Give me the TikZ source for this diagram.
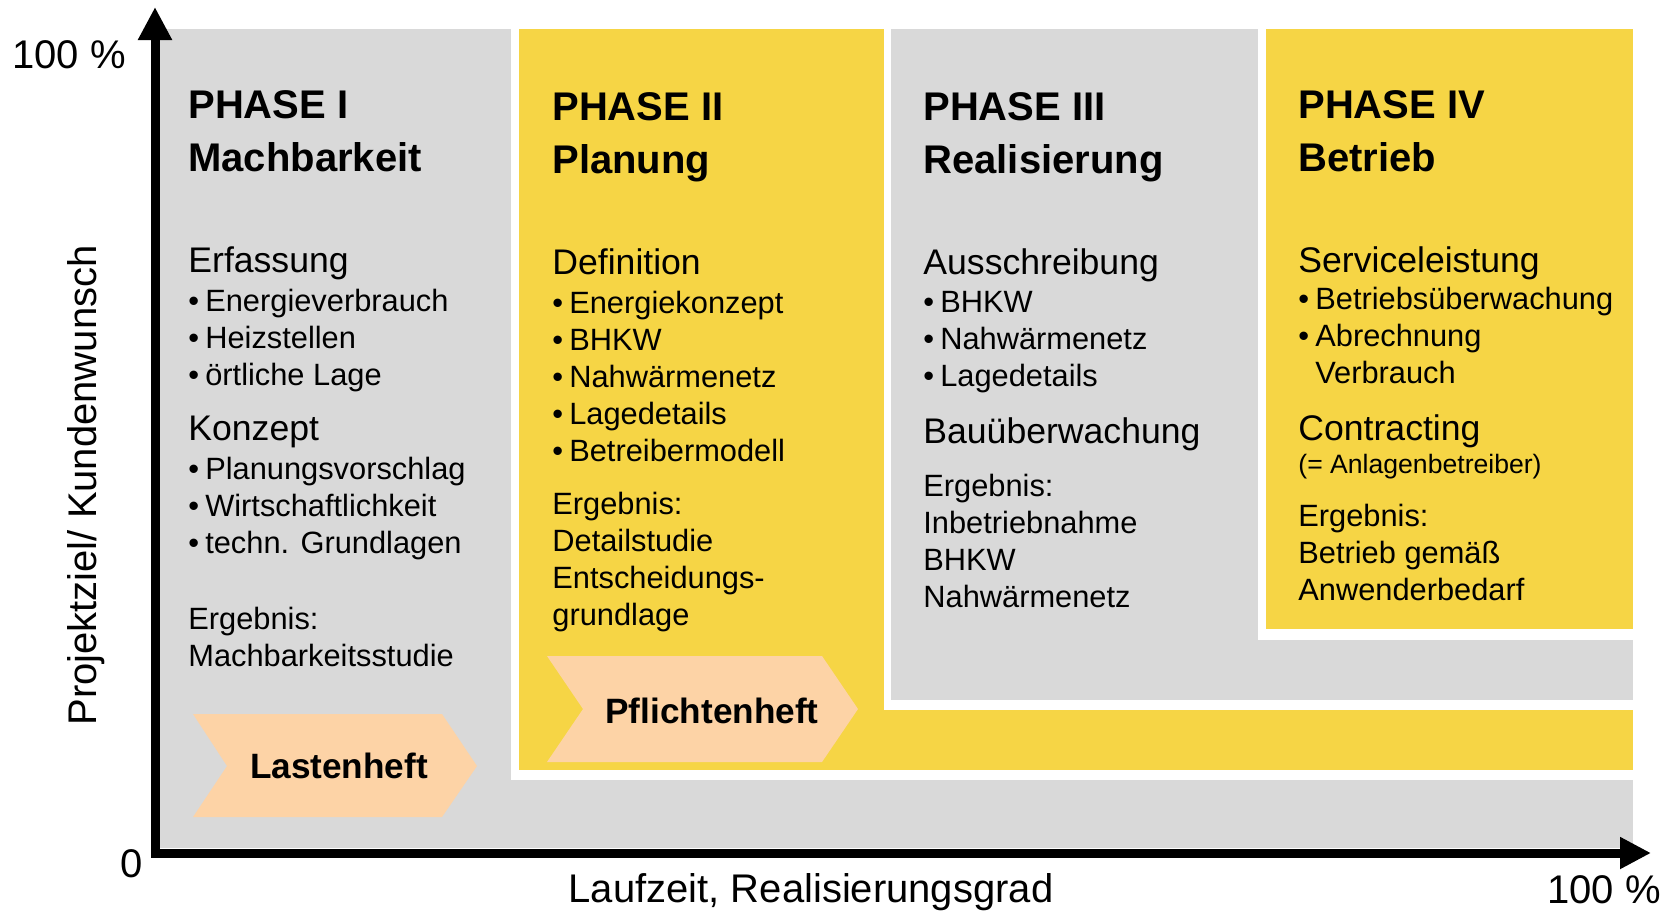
\documentclass[tikz,border=0pt]{standalone}
\usepackage{fontspec}
\setmainfont{Liberation Sans}
\usetikzlibrary{arrows.meta}

\definecolor{phgray}{HTML}{D9D9D9}
\definecolor{phyellow}{HTML}{F6D545}
\definecolor{phpeach}{HTML}{FDD3A6}

\newcommand{\bul}{•\hspace{0.2em}}

\tikzset{
  phtitle/.style={anchor=base west, align=left, inner sep=0pt, font=\fontsize{20}{26.5}\selectfont\bfseries},
  phhead/.style={anchor=base west, inner sep=0pt, font=\fontsize{17.8}{20}\selectfont},
  phitem/.style={anchor=base west, align=left, inner sep=0pt, font=\fontsize{15.4}{18.5}\selectfont},
  phsmall/.style={anchor=base west, inner sep=0pt, font=\fontsize{13.3}{15}\selectfont},
  phaxis/.style={inner sep=0pt, font=\fontsize{20}{24}\selectfont},
  chevtext/.style={anchor=base, inner sep=0pt, font=\fontsize{17.6}{20}\selectfont\bfseries}
}

\begin{document}
\begin{tikzpicture}[x=0.5pt,y=-0.5pt]
\useasboundingbox (0,0) rectangle (1668,911);

\fill[phgray] (155,29) rectangle (1633,848);
\fill[white] (511,29) rectangle (1633,780);
\fill[phyellow] (519,29) rectangle (1633,770);
\fill[white] (884,29) rectangle (1633,710);
\fill[phgray] (891,29) rectangle (1633,700);
\fill[white] (1258,29) rectangle (1633,640);
\fill[phyellow] (1266,29) rectangle (1633,629);

\fill[phpeach] (193,714) -- (442,714) -- (477,766) -- (442,817) -- (193,817) -- (227,766) -- cycle;
\fill[phpeach] (547,656) -- (822,656) -- (858,709) -- (822,762) -- (547,762) -- (583,709) -- cycle;
\node[chevtext] (lasten) at (339,778) {Lastenheft};
\node[chevtext] (pflicht) at (712,723) {Pflichtenheft};

\coordinate (origin) at (155,853);
\coordinate (ytop) at (155,7);
\coordinate (xend) at (1651,853);
\draw[line width=4.5pt, {Triangle[width=16pt,length=16.5pt]}-{Triangle[width=15pt,length=15.5pt]}]
  (ytop) -- (origin) -- (xend);

\node[phaxis, anchor=base west] (ymax) at (12,68) {100 \%};
\node[phaxis, anchor=base west] (zero) at (120,877) {0};
\node[phaxis, anchor=base] (xlabel) at (811,902) {Laufzeit, Realisierungsgrad};
\node[phaxis, anchor=base west] (xmax) at (1547,903) {100 \%};
\node[phaxis, anchor=base west, rotate=90] (ylabel) at (96,726) {Projektziel/ Kundenwunsch};

\node[phtitle] (t1) at (188,171) {PHASE I\\Machbarkeit};
\node[phhead] (erf) at (188,272) {Erfassung};
\node[phitem] (erfitems) at (188,385) {\bul Energieverbrauch\\\bul Heizstellen\\\bul örtliche Lage};
\node[phhead] (konz) at (188,440) {Konzept};
\node[phitem] (konzitems) at (188,553) {\bul Planungsvorschlag\\\bul Wirtschaftlichkeit\\\bul techn. Grundlagen};
\node[phitem] (erg1) at (188,666) {Ergebnis:\\Machbarkeitsstudie};

\node[phtitle] (t2) at (552,173) {PHASE II\\Planung};
\node[phhead] (defi) at (552,274) {Definition};
\node[phitem] (defitems) at (552,461) {\bul Energiekonzept\\\bul BHKW\\\bul Nahwärmenetz\\\bul Lagedetails\\\bul Betreibermodell};
\node[phitem] (erg2) at (552,625) {Ergebnis:\\Detailstudie\\Entscheidungs-\\grundlage};

\node[phtitle] (t3) at (923,173) {PHASE III\\Realisierung};
\node[phhead] (aus) at (923,274) {Ausschreibung};
\node[phitem] (ausitems) at (923,386) {\bul BHKW\\\bul Nahwärmenetz\\\bul Lagedetails};
\node[phhead] (bau) at (923,443) {Bauüberwachung};
\node[phitem] (erg3) at (923,607) {Ergebnis:\\Inbetriebnahme\\BHKW\\Nahwärmenetz};

\node[phtitle] (t4) at (1298,171) {PHASE IV\\Betrieb};
\node[phhead] (serv) at (1298,272) {Serviceleistung};
\node[phitem] (servitems) at (1298,383) {\bul Betriebsüberwachung\\\bul Abrechnung\\\phantom{\bul}Verbrauch};
\node[phhead] (contr) at (1298,440) {Contracting};
\node[phsmall] (anlage) at (1298,473) {(= Anlagenbetreiber)};
\node[phitem] (erg4) at (1298,600) {Ergebnis:\\Betrieb gemäß\\Anwenderbedarf};
\end{tikzpicture}
\end{document}
